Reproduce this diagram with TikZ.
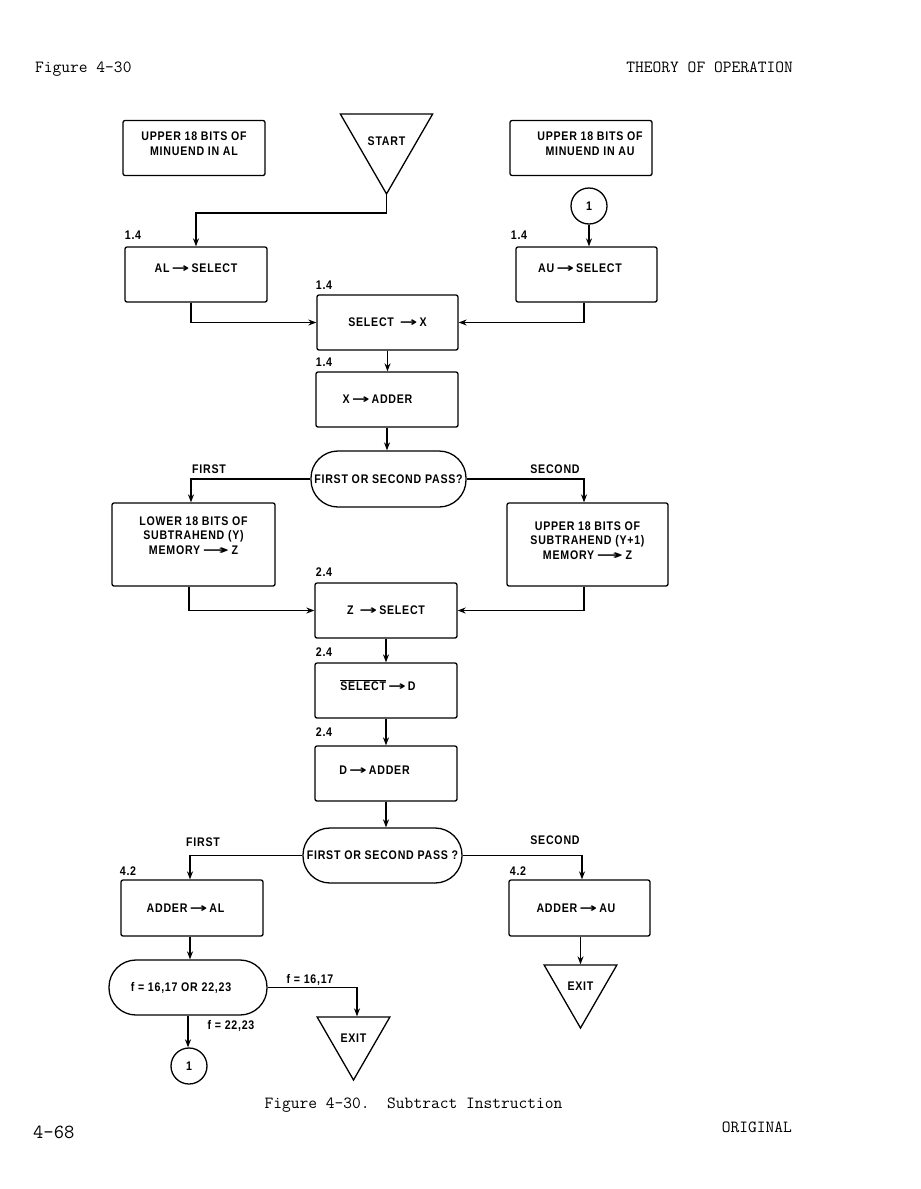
\documentclass[tikz,border=0pt]{standalone}
\usepackage{fontspec}
\usepackage{graphicx}
\usetikzlibrary{arrows.meta,shapes.geometric}
\newfontfamily\lbl{Liberation Sans}[FakeStretch=0.85,LetterSpace=6]
\newfontfamily\arrowfont{DejaVu Sans}
\newcommand\tarr{\,\scalebox{1.7}[1]{\arrowfont\bfseries →}\,}
\newcommand\ltarr{\,\scalebox{2.6}[1]{\arrowfont\bfseries →}\,}
\begin{document}
\begin{tikzpicture}[x=1pt,y=-1pt,
  every node/.style={font=\lbl\bfseries\fontsize{12.5}{14.5}\selectfont},
  procbox/.style={draw, line width=1.3pt, rounded corners=2pt, minimum width=142pt, minimum height=55pt, inner sep=2pt, align=center},
  stadium/.style={draw, line width=1.3pt, rounded corners=27pt, minimum height=55pt, inner sep=2pt},
  term/.style={draw, line width=1.3pt, regular polygon, regular polygon sides=3, shape border rotate=180, minimum size=84pt, inner sep=0pt},
  onpage/.style={draw, line width=1.3pt, circle, minimum size=36pt, inner sep=0pt},
  flow/.style={line width=1.3pt, -{Stealth[length=8pt,width=6pt]}},
  lab/.style={inner sep=1pt},
  pagetext/.style={font=\ttfamily\fontsize{17}{20}\selectfont, inner sep=0pt}
]
\useasboundingbox (0,0) rectangle (921,1189);

% page texts
\node[pagetext, anchor=west] (hdl) at (35,69) {Figure 4-30};
\node[pagetext, anchor=east] (hdr) at (793,67) {THEORY OF OPERATION};
\node[pagetext] (cap) at (413.5,1105) {Figure 4-30.\ \ Subtract Instruction};
\node[pagetext, anchor=west, font=\ttfamily\fontsize{20}{24}\selectfont] (pgn) at (33,1132) {4-68};
\node[pagetext, anchor=east] (orig) at (792,1127) {ORIGINAL};

% top row
\node[procbox, text height=14.6pt, text depth=0pt] (mal) at (194,148) {UPPER 18 BITS OF\\MINUEND IN AL};
\node[term] (start) at (386.5,140.7) {START};
\node[procbox, text height=14.6pt, text depth=0pt] (mau) at (581,148) {\hspace*{18pt}UPPER 18 BITS OF\\\hspace*{18pt}MINUEND IN AU};
\node[onpage] (c1) at (589,206) {1};

\node[procbox, text height=9pt, text depth=13.4pt] (als) at (196,274.5) {AL\tarr SELECT};
\node[procbox, minimum width=141pt, text height=9pt, text depth=13.4pt] (aus) at (586.5,274.5) {AU\tarr SELECT\hspace*{13pt}};
\node[procbox, minimum width=141pt] (sx) at (387.5,322.5) {SELECT \tarr X};
\node[procbox] (xa) at (387,399.5) {X\tarr ADDER\hspace*{19pt}};

\node[stadium, minimum width=155pt, minimum height=56pt] (d1) at (388.5,479) {FIRST OR SECOND PASS?};

\node[procbox, minimum width=163pt, minimum height=83pt, text height=19.6pt, text depth=0pt] (low) at (193.5,544.5) {LOWER 18 BITS OF\\SUBTRAHEND (Y)\\MEMORY\ltarr Z};
\node[procbox, minimum width=161pt, minimum height=83pt, text height=29.6pt, text depth=0pt] (upp) at (587.5,544.5) {UPPER 18 BITS OF\\SUBTRAHEND (Y+1)\\MEMORY\ltarr Z};

\node[procbox] (zs) at (386,610.5) {Z \tarr SELECT};
\node[procbox, text height=9pt, text depth=9.4pt] (sd) at (386,690.5) {$\overline{\hbox{SELECT}}$\tarr D\hspace*{16pt}};
\node[procbox, text height=9pt, text depth=7.4pt] (da) at (386,773.5) {D\tarr ADDER\hspace*{23pt}};

\node[stadium, minimum width=159pt] (d2) at (382.5,855.5) {FIRST OR SECOND PASS ?};

\node[procbox, minimum height=56pt] (aal) at (192,908) {ADDER\tarr AL\hspace*{13pt}};
\node[procbox, minimum width=141pt, minimum height=56pt] (aau) at (579.5,908) {ADDER\tarr AU\hspace*{7pt}};

\node[stadium, minimum width=158pt] (d3) at (188,987.5) {f = 16,17 OR 22,23\hspace*{14pt}};
\node[term] (exit1) at (353.5,1038) {EXIT};
\node[term] (exit2) at (580.5,986) {EXIT};
\node[onpage] (c2) at (189,1066) {1};

% step labels
\node[lab] (n1) at (133,235) {1.4};
\node[lab] (n2) at (519,235) {1.4};
\node[lab] (n3) at (324,285) {1.4};
\node[lab] (n4) at (324,362) {1.4};
\node[lab] (n5) at (324,572) {2.4};
\node[lab] (n6) at (324,652) {2.4};
\node[lab] (n7) at (324,732) {2.4};
\node[lab] (n8) at (128,871) {4.2};
\node[lab] (n9) at (518,871) {4.2};
\node[lab] (f1) at (209,469) {FIRST};
\node[lab] (s1) at (555,469) {SECOND};
\node[lab] (f2) at (203,842) {FIRST};
\node[lab] (s2) at (555,840) {SECOND};
\node[lab] (fa) at (310,980) {f = 16,17};
\node[lab] (fb) at (231,1026) {f = 22,23};

% connectors
\coordinate (k1) at (0,213);
\draw[flow] (start.corner 1) -- (start.corner 1 |- k1) -| (als.north);
\draw[flow] (c1.south) -- (c1.south |- aus.north);
\draw[flow] ([xshift=-5pt]als.south) |- (sx.west);
\draw[flow] ([xshift=-2.5pt]aus.south) |- (sx.east);
\draw[flow] (sx.south) -- (sx.south |- xa.north);
\draw[flow] (xa.south) -- (xa.south |- d1.north);
\draw[flow] (d1.west) -| ([xshift=-2.5pt]low.north);
\draw[flow] (d1.east) -| ([xshift=-3.5pt]upp.north);
\draw[flow] ([xshift=-4.5pt]low.south) |- (zs.west);
\draw[flow] ([xshift=-3.5pt]upp.south) |- (zs.east);
\draw[flow] (zs.south) -- (sd.north);
\draw[flow] (sd.south) -- (da.north);
\draw[flow] (da.south) -- (da.south |- d2.north);
\draw[flow] (d2.west) -| ([xshift=-2pt]aal.north);
\draw[flow] (d2.east) -| ([xshift=2.5pt]aau.north);
\draw[flow] ([xshift=-2pt]aal.south) -- ([xshift=-2pt]aal.south |- d3.north);
\draw[flow] (d3.east) -| ([xshift=3.5pt]exit1.north);
\draw[flow] (d3.south) -- (d3.south |- c2.north);
\draw[flow] (exit2.north |- aau.south) -- (exit2.north);
\end{tikzpicture}
\end{document}
